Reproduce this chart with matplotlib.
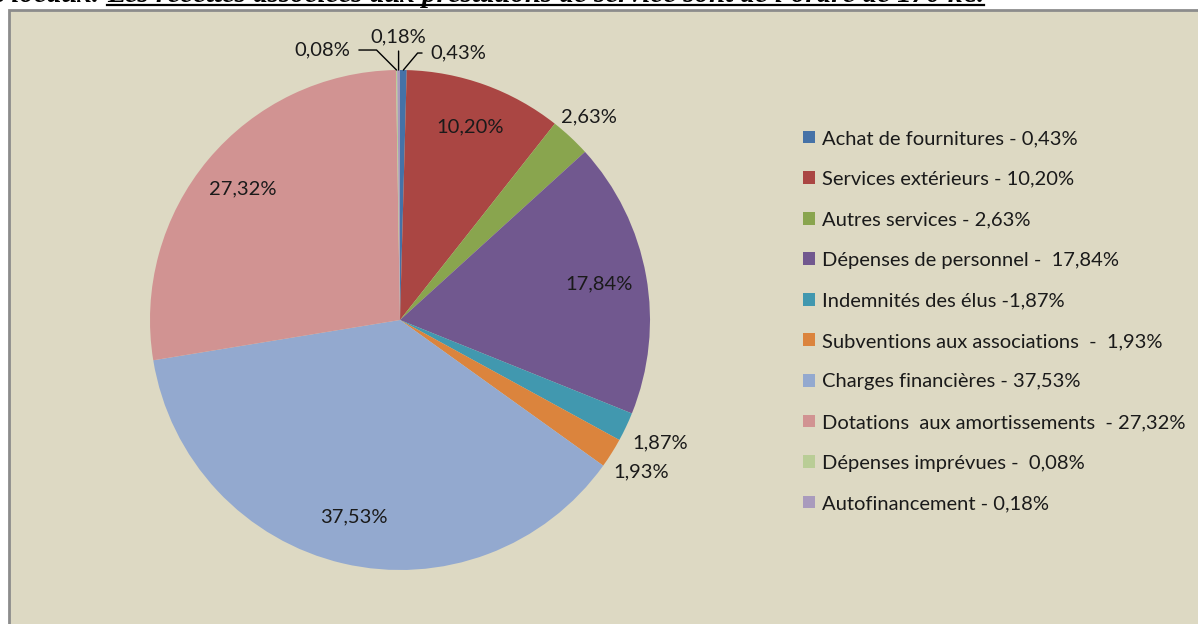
import numpy as np
import matplotlib.pyplot as plt
from matplotlib.patches import Rectangle

# Data
categories = ["Achat de fournitures - 0,43%", "Services extérieurs - 10,20%",
              "Autres services - 2,63%", "Dépenses de personnel -  17,84%",
              "Indemnités des élus -1,87%", "Subventions aux associations  -  1,93%",
              "Charges financières - 37,53%", "Dotations  aux amortissements  - 27,32%",
              "Dépenses imprévues -  0,08%", "Autofinancement - 0,18%"]
values = [0.43, 10.20, 2.63, 17.84, 1.87, 1.93, 37.53, 27.32, 0.08, 0.18]
pct_labels = ["0,43%", "10,20%", "2,63%", "17,84%", "1,87%", "1,93%",
              "37,53%", "27,32%", "0,08%", "0,18%"]
colors = ["#4572A7", "#AA4643", "#89A54E", "#71588F", "#4198AF",
          "#DB843D", "#93A9CF", "#D19392", "#B9CD96", "#A99BBD"]

W, H = 1198, 624
fig = plt.figure(figsize=(W / 100, H / 100), dpi=100)
fig.patch.set_facecolor("white")

# chart area box
fig.patches.append(Rectangle((9, -10), W + 10, H, transform=None,
                             facecolor="#DDD9C3", edgecolor="#8C8C8C", lw=2, zorder=-5))

font = "Lato"
fsz = 14.5

# truncated text line above the chart
ybase = 1 - 1.5 / H
part1 = fig.text(0, ybase, "s locaux. ", family="Liberation Serif", style="italic",
                 weight="bold", fontsize=10, va="baseline", ha="left")
part2 = fig.text(0, ybase, "Les recettes associées aux prestations de service sont de l'ordre de 170 k€.",
                 family="Liberation Serif", style="italic", weight="bold", fontsize=10,
                 va="baseline", ha="left")
fig.canvas.draw()
r = fig.canvas.get_renderer()
w2 = part2.get_window_extent(r).width
fs = 10 * 878 / w2
part1.set_fontsize(fs)
part2.set_fontsize(fs)
fig.canvas.draw()
w1 = part1.get_window_extent(r).width
part1.set_x((107 - w1) / W)
part2.set_x(107 / W)
w2 = part2.get_window_extent(r).width
fig.add_artist(plt.Line2D([107 / W, (107 + w2) / W], [1 - 5 / H, 1 - 5 / H], color="black", lw=1.6))

# pie
cx, cy, R = 400, 320, 250
ax = fig.add_axes([(cx - R) / W, (H - cy - R) / H, 2 * R / W, 2 * R / H], zorder=2)
ax.set_facecolor("none")
wedges, _ = ax.pie(values, colors=colors, startangle=90, counterclock=False,
                   radius=1, wedgeprops=dict(linewidth=0))
ax.set_xlim(-1, 1)
ax.set_ylim(-1, 1)
ax.set_aspect("equal")
ax.axis("off")

cum = np.cumsum(values) - np.array(values) / 2
theta = np.deg2rad(90 - 360 * cum / sum(values))
radial = [None, 0.82, 1.11, 0.81, 1.15, 1.14, 0.81, 0.82, None, None]
for i, lab in enumerate(pct_labels):
    if radial[i] is None:
        continue
    ax.text(radial[i] * np.cos(theta[i]), radial[i] * np.sin(theta[i]), lab,
            ha="center", va="center", fontsize=fsz, family=font, color="#1a1a1a")

# small slices with leader lines
edge = [(np.cos(t), np.sin(t)) for t in theta]
ax.annotate(pct_labels[0], xy=edge[0], xytext=(27, 17), textcoords="offset pixels",
            ha="left", va="center", fontsize=fsz, family=font, color="#1a1a1a",
            arrowprops=dict(arrowstyle="-", color="black", lw=1,
                            connectionstyle="angle,angleA=0,angleB=50", shrinkA=4, shrinkB=0),
            annotation_clip=False)
ax.annotate(pct_labels[9], xy=edge[9], xytext=(0, 33), textcoords="offset pixels",
            ha="center", va="center", fontsize=fsz, family=font, color="#1a1a1a",
            arrowprops=dict(arrowstyle="-", color="black", lw=1, shrinkA=2, shrinkB=0),
            annotation_clip=False)
ax.annotate(pct_labels[8], xy=edge[8], xytext=(-46, 20), textcoords="offset pixels",
            ha="right", va="center", fontsize=fsz, family=font, color="#1a1a1a",
            arrowprops=dict(arrowstyle="-", color="black", lw=1,
                            connectionstyle="angle,angleA=0,angleB=135", shrinkA=4, shrinkB=0),
            annotation_clip=False)

# legend
leg = fig.legend(wedges, categories, loc="upper left",
                 bbox_to_anchor=(785 / W, 1 - 112 / H), frameon=False,
                 prop=dict(family=font, size=fsz), handlelength=0.6, handleheight=0.6,
                 handletextpad=0.35, labelspacing=1.17)
for t in leg.get_texts():
    t.set_color("#1a1a1a")

fig.savefig("out.png", dpi=100, facecolor="white")
